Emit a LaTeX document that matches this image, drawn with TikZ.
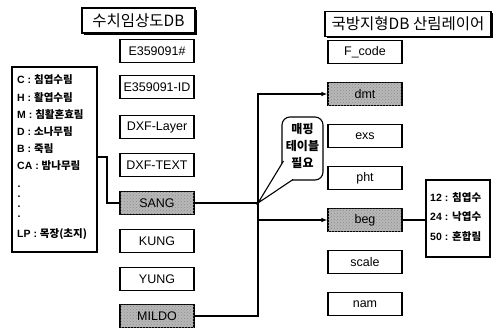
\documentclass[tikz,border=0pt]{standalone}
\usepackage{fontspec}
\setmainfont{Liberation Sans}
\newfontfamily\kr{Noto Sans CJK KR}
\usetikzlibrary{arrows.meta,shadows,patterns}
\begin{document}
\begin{tikzpicture}[x=1pt,y=-1pt,
  box/.style={draw,line width=1.1pt,minimum width=74pt,minimum height=23pt,inner sep=0pt,font=\fontsize{12.5}{13}\selectfont},
  rbox/.style={box,font=\fontsize{12.5}{13}\selectfont},
  shaded/.style={fill=black!28,postaction={pattern=crosshatch dots,pattern color=black!45}},
  head/.style={draw,line width=1.1pt,inner sep=0pt,fill=white,font=\kr\fontsize{15.5}{16}\selectfont,
    drop shadow={shadow xshift=1.5pt,shadow yshift=-1.5pt,fill=black,opacity=1}},
  frame/.style={draw,line width=1.1pt,inner sep=0pt,fill=white,
    drop shadow={shadow xshift=1.2pt,shadow yshift=-1.2pt,fill=black,opacity=1}},
  ltxt/.style={anchor=west,inner sep=0pt,font=\bfseries\fontsize{10.5}{11}\selectfont},
  conn/.style={line width=1.1pt},
  arr/.style={conn,-{Latex[length=6pt,width=4.5pt]}}
]
\useasboundingbox (0,0) rectangle (498,335);

% headers
\node[head,minimum width=113pt,minimum height=25pt] (hl) at (138.5,20.5) {수치임상도DB};
\node[head,minimum width=166pt,minimum height=25pt] (hr) at (408,24) {국방지형DB 산림레이어};

% left column
\node[box] (e1) at (157,51) {E359091\#};
\node[box] (e2) at (157,87) {E359091-ID};
\node[box] (dl) at (157,127) {DXF-Layer};
\node[box] (dt) at (157,165) {DXF-TEXT};
\node[box,shaded] (sang) at (157,203) {SANG};
\node[box] (kung) at (157,241) {KUNG};
\node[box] (yung) at (157,279) {YUNG};
\node[box,shaded] (mildo) at (157,316) {MILDO};

% right column
\node[rbox] (fc) at (365,52) {F\_code};
\node[rbox,shaded] (dmt) at (365,94) {dmt};
\node[rbox] (exs) at (365,136) {exs};
\node[rbox] (pht) at (365,178) {pht};
\node[rbox,shaded] (beg) at (365,220) {beg};
\node[rbox] (scale) at (365,262) {scale};
\node[rbox] (nam) at (365,304) {nam};

% left legend
\node[frame,minimum width=85pt,minimum height=185pt] (lgl) at (54.5,159.5) {};
\node[ltxt] (l1) at (17,80) {C : {\kr 침엽수림}};
\node[ltxt] (l2) at (17,98) {H : {\kr 활엽수림}};
\node[ltxt] (l3) at (17,115) {M : {\kr 침활혼효림}};
\node[ltxt] (l4) at (17,132) {D : {\kr 소나무림}};
\node[ltxt] (l5) at (17,149) {B : {\kr 죽림}};
\node[ltxt] (l6) at (17,166) {CA : {\kr 밤나무림}};
\foreach \yy/\nm in {187/d1,197/d2,207/d3,217/d4}
  \node[ltxt] (\nm) at (17.5,\yy) {.};
\node[ltxt] (l7) at (17,234) {LP : {\kr 목장(초지)}};

% right legend
\node[frame,minimum width=64pt,minimum height=77pt] (lgr) at (458,218.5) {};
\node[ltxt] (r1) at (430,198) {12 : {\kr 침엽수}};
\node[ltxt] (r2) at (430,217) {24 : {\kr 낙엽수}};
\node[ltxt] (r3) at (430,236) {50 : {\kr 혼합림}};

% callout
\coordinate (jn) at (258,203);
\node[draw,line width=1.1pt,rounded corners=8pt,minimum width=41pt,minimum height=63pt,inner sep=0pt,fill=white] (call) at (302.5,148.5) {};
\fill[white] (283.5,161) -- (jn) -- (293,179.5) -- (286,176) -- cycle;
\draw[line width=1.1pt] (283.5,161) -- (jn) -- (293,179.5);
\node[font=\kr\bfseries\fontsize{12}{17}\selectfont,align=center,inner sep=0pt] (ctext) at (302.5,146) {매핑\\테이블\\필요};

% connectors
\coordinate (lgout) at (97,157);
\draw[conn] (lgout) -- ++(10,0) |- (sang.west);
\draw[conn] (sang.east) -- (jn);
\draw[conn] (mildo.east) -| (jn);
\draw[arr] (jn) |- (dmt.west);
\draw[arr] (jn |- beg.west) -- (beg.west);
\draw[conn] (beg.east) -- (lgr.west |- beg.east);
\end{tikzpicture}
\end{document}
